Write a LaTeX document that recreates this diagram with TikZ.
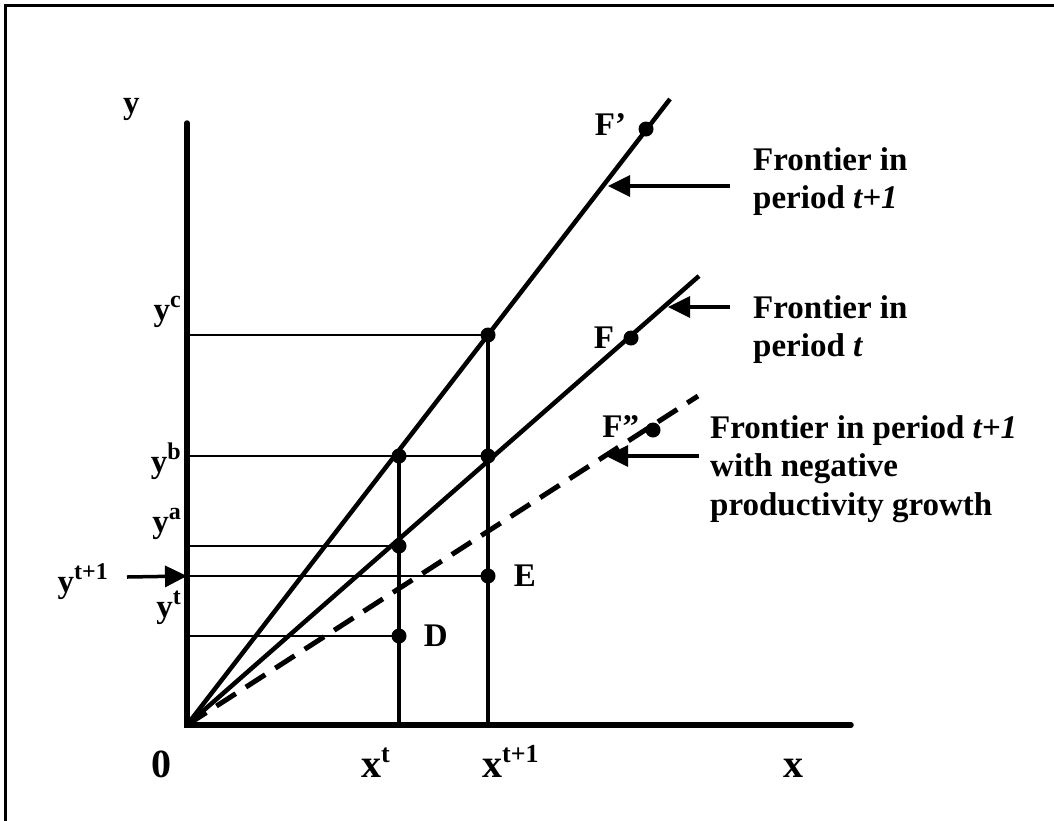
\documentclass[tikz,border=0pt]{standalone}
\usepackage{fontspec}
\setmainfont{Liberation Serif}
\usetikzlibrary{arrows.meta,positioning}
\newcommand\upidx[1]{\raisebox{13pt}{\fontsize{24}{24}\selectfont #1}}
\newcommand\upidxx[1]{\raisebox{15pt}{\fontsize{26}{26}\selectfont #1}}

\begin{document}
\begin{tikzpicture}[
    x=1pt, y=-1pt,
    font=\fontsize{33}{38.5}\selectfont\bfseries,
    axis/.style={line width=5.5pt},
    front/.style={line width=4.5pt},
    guide/.style={line width=2.8pt},
    drop/.style={line width=3.5pt},
    dot/.style={circle, fill, inner sep=0pt, minimum size=15pt},
    lbl/.style={inner sep=0pt, anchor=base west},
    xlbl/.style={inner sep=0pt, anchor=base west, font=\fontsize{40}{40}\selectfont\bfseries},
    ylbl/.style={inner sep=0pt, anchor=base east},
    note/.style={inner sep=0pt, anchor=north west, align=left},
    pointer/.style={line width=3.5pt, -{Triangle[length=22pt,width=21pt]}}
  ]
    \useasboundingbox (0,0) rectangle (1054,820);
    \draw[line width=3pt] (5,822) -- (5,5) -- (1056,5);

    \coordinate (O) at (187,725);
    \coordinate (ytop) at (187,123);
    \coordinate (xend) at (851,725);
    \coordinate (Fptop) at (670,99);
    \coordinate (Ftop) at (699,276);
    \coordinate (Fpptop) at (698,396);

    \node[dot] (B1) at (399,456) {};
    \node[dot] (B2) at (488,456) {};
    \node[dot] (C) at (488,335) {};
    \node[dot] (A) at (399,546) {};
    \node[dot] (E) at (488,576) {};
    \node[dot] (D) at (399,636) {};
    \node[dot] (F) at (631,338) {};
    \node[dot] (Fp) at (646,129) {};
    \node[dot] (Fpp) at (653,430) {};

    \draw[guide] (O |- C) -- (C.center);
    \draw[guide] (O |- B2) -- (B2.center);
    \draw[guide] (O |- A) -- (A.center);
    \draw[guide] (O |- E) -- (E.center);
    \draw[guide] (O |- D) -- (D.center);
    \draw[drop] (B1.center) -- (B1 |- O);
    \draw[drop] (C.center) -- (C |- O);

    \draw[front] (O) -- (Fptop);
    \draw[front] (O) -- (Ftop);
    \draw[front, line width=5pt, dash pattern=on 23pt off 12pt] (O) -- (Fpptop);

    \draw[axis, line cap=round] (ytop) -- (O) -- (xend);

    \node[lbl] (ylab) at (123,113) {y};
    \node[xlbl] (zero) at (151,777) {0};
    \node[xlbl] (xt) at (361,777) {x\upidxx{t}};
    \node[xlbl] (xt1) at (482,777) {x\upidxx{t+1}};
    \node[xlbl] (xlab) at (783,777) {x};

    \node[ylbl] (yc) at (181,320) {y\upidx{c}};
    \node[ylbl] (yb) at (181,472) {y\upidx{b}};
    \node[ylbl] (ya) at (181,532) {y\upidx{a}};
    \node[ylbl] (yt1) at (108,592) {y\upidx{t+1}};
    \node[ylbl] (yt) at (181,617) {y\upidx{t}};

    \node[inner sep=0pt, right=18pt of E] (Elab) {E};
    \node[inner sep=0pt, right=17pt of D] (Dlab) {D};
    \node[inner sep=0pt, left=9pt of F] (Flab) {F};
    \node[inner sep=0pt, left=12pt of Fp, yshift=4pt] (Fplab) {F’};
    \node[inner sep=0pt, left=6pt of Fpp, yshift=3pt] (Fpplab) {F”};

    \node[note] (n1) at (753,147) {Frontier in\\period \textit{t+1}};
    \node[note] (n2) at (753,295) {Frontier in\\period \textit{t}};
    \node[note] (n3) at (710,415) {Frontier in period \textit{t+1}\\with negative\\productivity growth};

    \coordinate (a1) at (730,186);
    \coordinate (a1t) at (608,186);
    \coordinate (a2) at (730,307);
    \coordinate (a2t) at (668,307);
    \coordinate (a3) at (699,456);
    \coordinate (a3t) at (606,456);
    \coordinate (a4) at (127,577);

    \draw[pointer] (a1) -- (a1t);
    \draw[pointer] (a2) -- (a2t);
    \draw[pointer] (a3) -- (a3t);
    \draw[pointer] (a4) -- (O |- E);
  \end{tikzpicture}
\end{document}
